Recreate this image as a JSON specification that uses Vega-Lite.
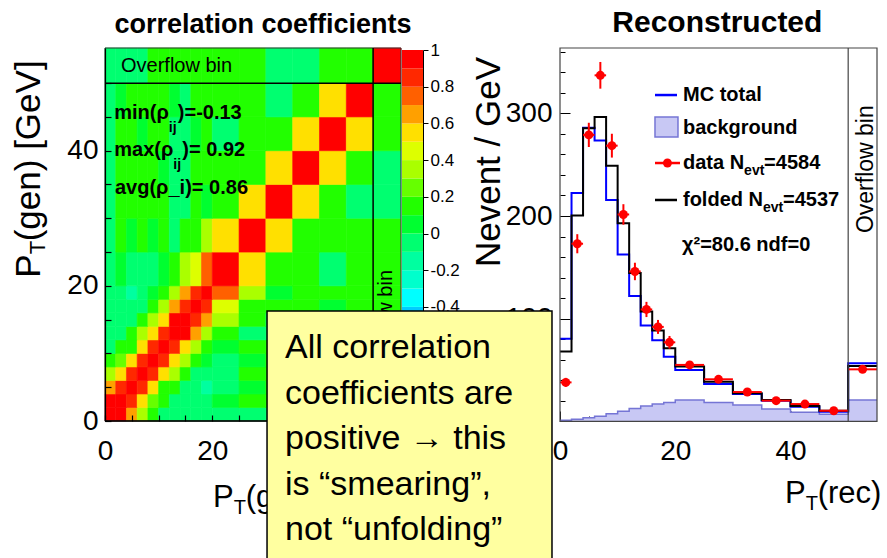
{
"$schema":"https://vega.github.io/schema/vega-lite/v6.json",
"width":887,"height":558,"autosize":{"type":"none"},"padding":0,"background":"white",
"config":{"view":{"stroke":null},"font":"Liberation Sans","text":{"font":"Liberation Sans","color":"black"},
 "axis":{"grid":false,"labelFont":"Liberation Sans","labelColor":"black","domainColor":"black","tickColor":"black","labelFlush":false,"labelOverlap":false,"title":null}},
"datasets":{
 "one":[{}],
 "edges":[{"k":0,"lo":0,"hi":2},{"k":1,"lo":2,"hi":4},{"k":2,"lo":4,"hi":6},{"k":3,"lo":6,"hi":8},{"k":4,"lo":8,"hi":10},{"k":5,"lo":10,"hi":12},{"k":6,"lo":12,"hi":14},{"k":7,"lo":14,"hi":16},{"k":8,"lo":16,"hi":18},{"k":9,"lo":18,"hi":20},{"k":10,"lo":20,"hi":25},{"k":11,"lo":25,"hi":30},{"k":12,"lo":30,"hi":35},{"k":13,"lo":35,"hi":40},{"k":14,"lo":40,"hi":45},{"k":15,"lo":45,"hi":50},{"k":16,"lo":50,"hi":55.2}],
 "corr":[
  {"j":0,"i":[0,1,2,3,4,5,6,7,8,9,10,11,12,13,14,15,16],"r":[1,0.92,0.68,0.38,0.15,-0.05,-0.05,-0.05,-0.05,-0.05,-0.05,-0.05,-0.05,-0.05,-0.05,-0.05,-0.05]},
  {"j":1,"i":[0,1,2,3,4,5,6,7,8,9,10,11,12,13,14,15,16],"r":[0.92,1,0.86,0.55,0.2,0.12,-0.05,-0.05,-0.05,-0.05,0.05,0.12,0.12,0.12,0.12,0.05,-0.05]},
  {"j":2,"i":[0,1,2,3,4,5,6,7,8,9,10,11,12,13,14,15,16],"r":[0.68,0.86,1,0.8,0.55,0.15,0.12,-0.05,-0.05,-0.13,-0.05,0.05,0.12,0.12,0.12,0.12,-0.05]},
  {"j":3,"i":[0,1,2,3,4,5,6,7,8,9,10,11,12,13,14,15,16],"r":[0.38,0.55,0.8,1,0.86,0.55,0.3,0.12,-0.05,-0.05,-0.05,0.12,0.12,0.12,0.05,0.12,-0.05]},
  {"j":4,"i":[0,1,2,3,4,5,6,7,8,9,10,11,12,13,14,15,16],"r":[0.15,0.2,0.55,0.86,1,0.85,0.58,0.35,0.15,0.05,-0.05,0.05,0.12,0.12,0.12,0.12,0.12]},
  {"j":5,"i":[0,1,2,3,4,5,6,7,8,9,10,11,12,13,14,15,16],"r":[-0.05,0.12,0.15,0.55,0.85,1,0.86,0.55,0.32,0.15,0.05,0.12,0.12,0.05,0.12,0.12,0.12]},
  {"j":6,"i":[0,1,2,3,4,5,6,7,8,9,10,11,12,13,14,15,16],"r":[-0.05,-0.05,0.12,0.3,0.58,0.86,1,0.9,0.62,0.35,0.15,-0.05,-0.05,-0.05,-0.05,0.05,0.12]},
  {"j":7,"i":[0,1,2,3,4,5,6,7,8,9,10,11,12,13,14,15,16],"r":[-0.05,-0.05,-0.05,0.12,0.35,0.55,0.9,1,0.88,0.6,0.32,0.12,-0.05,-0.05,-0.05,-0.05,0.12]},
  {"j":8,"i":[0,1,2,3,4,5,6,7,8,9,10,11,12,13,14,15,16],"r":[-0.05,-0.05,-0.05,-0.05,0.15,0.32,0.62,0.88,1,0.85,0.45,0.12,0.12,0.12,0.05,0.12,0.12]},
  {"j":9,"i":[0,1,2,3,4,5,6,7,8,9,10,11,12,13,14,15,16],"r":[-0.05,-0.05,-0.13,-0.05,0.05,0.15,0.35,0.6,0.85,1,0.74,0.3,0.05,0.12,0.12,0.12,0.12]},
  {"j":10,"i":[0,1,2,3,4,5,6,7,8,9,10,11,12,13,14,15,16],"r":[-0.05,0.05,-0.05,-0.05,-0.05,0.05,0.15,0.32,0.45,0.74,1,0.55,0.12,0.12,-0.05,0.12,0.12]},
  {"j":11,"i":[0,1,2,3,4,5,6,7,8,9,10,11,12,13,14,15,16],"r":[-0.05,0.12,0.05,0.12,0.05,0.12,-0.05,0.12,0.12,0.3,0.55,1,0.55,0.15,0.12,0.12,0.12]},
  {"j":12,"i":[0,1,2,3,4,5,6,7,8,9,10,11,12,13,14,15,16],"r":[-0.05,0.12,0.12,0.12,0.12,0.12,-0.05,-0.05,0.12,0.05,0.12,0.55,1,0.55,0.12,-0.05,-0.05]},
  {"j":13,"i":[0,1,2,3,4,5,6,7,8,9,10,11,12,13,14,15,16],"r":[-0.05,0.12,0.12,0.12,0.12,0.05,-0.05,-0.05,0.12,0.12,0.12,0.15,0.55,1,0.55,0.12,-0.05]},
  {"j":14,"i":[0,1,2,3,4,5,6,7,8,9,10,11,12,13,14,15,16],"r":[-0.05,0.12,0.12,0.05,0.12,0.12,-0.05,-0.05,0.05,0.12,-0.05,0.12,0.12,0.55,1,0.55,0.12]},
  {"j":15,"i":[0,1,2,3,4,5,6,7,8,9,10,11,12,13,14,15,16],"r":[-0.05,0.05,0.12,0.12,0.12,0.12,0.05,-0.05,0.12,0.12,0.12,0.12,-0.05,0.12,0.55,1,0.12]},
  {"j":16,"i":[0,1,2,3,4,5,6,7,8,9,10,11,12,13,14,15,16],"r":[-0.05,-0.05,-0.05,-0.05,0.12,0.12,0.12,0.12,0.12,0.12,0.12,0.12,-0.05,-0.05,0.12,0.12,1]}
 ],
 "cbar":[{"lo":-1,"hi":-0.9,"c":-0.95},{"lo":-0.9,"hi":-0.8,"c":-0.85},{"lo":-0.8,"hi":-0.7,"c":-0.75},{"lo":-0.7,"hi":-0.6,"c":-0.65},{"lo":-0.6,"hi":-0.5,"c":-0.55},{"lo":-0.5,"hi":-0.4,"c":-0.45},{"lo":-0.4,"hi":-0.3,"c":-0.35},{"lo":-0.3,"hi":-0.2,"c":-0.25},{"lo":-0.2,"hi":-0.1,"c":-0.15},{"lo":-0.1,"hi":0,"c":-0.05},{"lo":0,"hi":0.1,"c":0.05},{"lo":0.1,"hi":0.2,"c":0.15},{"lo":0.2,"hi":0.3,"c":0.25},{"lo":0.3,"hi":0.4,"c":0.35},{"lo":0.4,"hi":0.5,"c":0.45},{"lo":0.5,"hi":0.6,"c":0.55},{"lo":0.6,"hi":0.7,"c":0.65},{"lo":0.7,"hi":0.8,"c":0.75},{"lo":0.8,"hi":0.9,"c":0.85},{"lo":0.9,"hi":1,"c":0.95}],
 "steps":[{"e":0,"mc":80.5,"fold":68,"bg":1.2},{"e":2,"mc":222.5,"fold":200.5,"bg":2},{"e":4,"mc":286,"fold":285.5,"bg":3.5},{"e":6,"mc":273.5,"fold":296.5,"bg":5},{"e":8,"mc":215.5,"fold":249,"bg":7.5},{"e":10,"mc":162.5,"fold":193,"bg":10},{"e":12,"mc":122,"fold":144.5,"bg":12.5},{"e":14,"mc":93.5,"fold":107,"bg":15},{"e":16,"mc":79,"fold":88.5,"bg":17},{"e":18,"mc":63,"fold":71.2,"bg":18.5},{"e":20,"mc":50,"fold":53.5,"bg":20.8},{"e":25,"mc":36.4,"fold":38.7,"bg":18.5},{"e":30,"mc":26.7,"fold":27.3,"bg":16},{"e":35,"mc":20.2,"fold":20.8,"bg":12},{"e":40,"mc":14.3,"fold":15,"bg":8.8},{"e":45,"mc":9.5,"fold":10.4,"bg":7},{"e":50,"mc":56.6,"fold":54,"bg":20.8},{"e":55,"mc":56.6,"fold":54,"bg":20.8}],
 "hist":[{"lo":0,"hi":2,"mid":1,"data":38,"dlo":33.6,"dhi":42.4},{"lo":2,"hi":4,"mid":3,"data":173,"dlo":163.7,"dhi":182.3},{"lo":4,"hi":6,"mid":5,"data":279,"dlo":267.2,"dhi":290.8},{"lo":6,"hi":8,"mid":7,"data":337,"dlo":324,"dhi":350},{"lo":8,"hi":10,"mid":9,"data":268.5,"dlo":256.9,"dhi":280.1},{"lo":10,"hi":12,"mid":11,"data":201.5,"dlo":191.5,"dhi":211.5},{"lo":12,"hi":14,"mid":13,"data":146,"dlo":137.5,"dhi":154.5},{"lo":14,"hi":16,"mid":15,"data":109,"dlo":101.6,"dhi":116.4},{"lo":16,"hi":18,"mid":17,"data":92,"dlo":85.2,"dhi":98.8},{"lo":18,"hi":20,"mid":19,"data":77,"dlo":70.8,"dhi":83.2},{"lo":20,"hi":25,"mid":22.5,"data":55,"dlo":51.7,"dhi":58.3},{"lo":25,"hi":30,"mid":27.5,"data":41,"dlo":38.1,"dhi":43.9},{"lo":30,"hi":35,"mid":32.5,"data":28.6,"dlo":26.2,"dhi":31},{"lo":35,"hi":40,"mid":37.5,"data":20.2,"dlo":18.2,"dhi":22.2},{"lo":40,"hi":45,"mid":42.5,"data":16.9,"dlo":15.1,"dhi":18.7},{"lo":45,"hi":50,"mid":47.5,"data":10.4,"dlo":9,"dhi":11.8},{"lo":50,"hi":55,"mid":52.5,"data":50.7,"dlo":47.5,"dhi":53.9}],
 "stats":[{"pre":"min(ρ","sub":"ij","post":")=-0.13","x":11.9,"y":45.58},{"pre":"max(ρ","sub":"ij","post":")= 0.92","x":12.74,"y":40.1}],
 "legsub":[{"pre":"data N","sub":"evt","post":"=4584","x":31.94,"y":251.6},{"pre":"folded N","sub":"evt","post":"=4537","x":35.22,"y":215.6}]
},
"resolve":{"scale":{"x":"independent","y":"independent"},"axis":{"x":"independent","y":"independent"}},
"layer":[
 {"layer":[
  {"data":{"name":"corr"},
   "transform":[{"flatten":["i","r"]},
     {"lookup":"i","from":{"data":{"name":"edges"},"key":"k","fields":["lo","hi"]},"as":["x","x2"]},
     {"lookup":"j","from":{"data":{"name":"edges"},"key":"k","fields":["lo","hi"]},"as":["y","y2"]}],
   "mark":{"type":"rect","strokeWidth":0.6},
   "encoding":{
    "x":{"field":"x","type":"quantitative","scale":{"domain":[0,55.2],"range":[105,401],"nice":false,"zero":false},"axis":null},
    "x2":{"field":"x2"},
    "y":{"field":"y","type":"quantitative","scale":{"domain":[0,55.2],"range":[421,48],"nice":false,"zero":false},"axis":null},
    "y2":{"field":"y2"},
    "color":{"field":"r","type":"quantitative","scale":{"type":"threshold","domain":[-0.9,-0.8,-0.7,-0.6,-0.5,-0.4,-0.3,-0.2,-0.1,0,0.1,0.2,0.3,0.4,0.5,0.6,0.7,0.8,0.9],"range":["#6600ff","#3300ff","#0033ff","#0066ff","#0099ff","#00ccff","#00ffff","#00ffcc","#00ffa0","#00ff70","#00ff30","#22ff00","#66ff00","#aaff00","#ddff00","#ffe000","#ffa000","#ff6000","#ff2800","#ff0000"]},"legend":null},
    "stroke":{"field":"r","type":"quantitative","scale":{"type":"threshold","domain":[-0.9,-0.8,-0.7,-0.6,-0.5,-0.4,-0.3,-0.2,-0.1,0,0.1,0.2,0.3,0.4,0.5,0.6,0.7,0.8,0.9],"range":["#6600ff","#3300ff","#0033ff","#0066ff","#0099ff","#00ccff","#00ffff","#00ffcc","#00ffa0","#00ff70","#00ff30","#22ff00","#66ff00","#aaff00","#ddff00","#ffe000","#ffa000","#ff6000","#ff2800","#ff0000"]},"legend":null}
   }},
  {"data":{"name":"one"},"mark":{"type":"rect","filled":false,"color":"#333333","strokeWidth":1},
   "encoding":{"x":{"datum":0,"type":"quantitative","scale":{"domain":[0,55.2],"range":[105,401],"nice":false,"zero":false},"axis":null},"x2":{"datum":55.2},
    "y":{"datum":0,"type":"quantitative","scale":{"domain":[0,55.2],"range":[421,48],"nice":false,"zero":false},"axis":null},"y2":{"datum":55.2}}},
  {"data":{"name":"one"},"mark":{"type":"rule","color":"black","strokeWidth":1.5},
   "encoding":{"x":{"datum":50,"type":"quantitative","scale":{"domain":[0,55.2],"range":[105,401],"nice":false,"zero":false},"axis":null},
    "y":{"datum":0,"type":"quantitative","scale":{"domain":[0,55.2],"range":[421,48],"nice":false,"zero":false},"axis":null},"y2":{"datum":55.2}}},
  {"data":{"name":"one"},"mark":{"type":"rule","color":"black","strokeWidth":1.5},
   "encoding":{"x":{"datum":0,"type":"quantitative","scale":{"domain":[0,55.2],"range":[105,401],"nice":false,"zero":false},"axis":null},"x2":{"datum":55.2},
    "y":{"datum":50,"type":"quantitative","scale":{"domain":[0,55.2],"range":[421,48],"nice":false,"zero":false},"axis":null}}},
  {"data":{"name":"one"},"mark":{"type":"rule","color":"black","strokeWidth":1.5},
   "encoding":{"x":{"datum":0,"type":"quantitative","scale":{"domain":[0,55.2],"range":[105,401],"nice":false,"zero":false},"axis":null},"x2":{"datum":55.2},
    "y":{"datum":0,"type":"quantitative","scale":{"domain":[0,55.2],"range":[421,48],"nice":false,"zero":false},"axis":null}}},
  {"data":{"values":[{"t":"correlation coefficients","x":29.47,"y":58.6}]},
   "mark":{"type":"text","fontSize":27,"fontWeight":"bold","align":"center","baseline":"middle"},
   "encoding":{"x":{"field":"x","type":"quantitative","scale":{"domain":[0,55.2],"range":[105,401],"nice":false,"zero":false},"axis":null},
    "y":{"field":"y","type":"quantitative","scale":{"domain":[0,55.2],"range":[421,48],"nice":false,"zero":false},"axis":null},"text":{"field":"t"}}},
  {"data":{"values":[{"t":"Overflow bin","x":2.98,"y":51.65}]},
   "mark":{"type":"text","fontSize":20,"align":"left","baseline":"alphabetic"},
   "encoding":{"x":{"field":"x","type":"quantitative","scale":{"domain":[0,55.2],"range":[105,401],"nice":false,"zero":false},"axis":null},
    "y":{"field":"y","type":"quantitative","scale":{"domain":[0,55.2],"range":[421,48],"nice":false,"zero":false},"axis":null},"text":{"field":"t"}}},
  {"data":{"values":[{"t":"Overflow bin","x":52.4,"y":22.35}]},
   "mark":{"type":"text","fontSize":20,"align":"right","baseline":"middle","angle":270},
   "encoding":{"x":{"field":"x","type":"quantitative","scale":{"domain":[0,55.2],"range":[105,401],"nice":false,"zero":false},"axis":null},
    "y":{"field":"y","type":"quantitative","scale":{"domain":[0,55.2],"range":[421,48],"nice":false,"zero":false},"axis":null},"text":{"field":"t"}}},
  {"data":{"name":"stats"},
   "mark":{"type":"text","fontSize":20,"fontWeight":"bold","align":"right","baseline":"middle"},
   "encoding":{"x":{"field":"x","type":"quantitative","scale":{"domain":[0,55.2],"range":[105,401],"nice":false,"zero":false},"axis":null},
    "y":{"field":"y","type":"quantitative","scale":{"domain":[0,55.2],"range":[421,48],"nice":false,"zero":false},"axis":null},"text":{"field":"pre"}}},
  {"data":{"name":"stats"},
   "mark":{"type":"text","fontSize":14,"fontWeight":"bold","align":"left","baseline":"middle","dy":15},
   "encoding":{"x":{"field":"x","type":"quantitative","scale":{"domain":[0,55.2],"range":[105,401],"nice":false,"zero":false},"axis":null},
    "y":{"field":"y","type":"quantitative","scale":{"domain":[0,55.2],"range":[421,48],"nice":false,"zero":false},"axis":null},"text":{"field":"sub"}}},
  {"data":{"name":"stats"},
   "mark":{"type":"text","fontSize":20,"fontWeight":"bold","align":"left","baseline":"middle","dx":9},
   "encoding":{"x":{"field":"x","type":"quantitative","scale":{"domain":[0,55.2],"range":[105,401],"nice":false,"zero":false},"axis":null},
    "y":{"field":"y","type":"quantitative","scale":{"domain":[0,55.2],"range":[421,48],"nice":false,"zero":false},"axis":null},"text":{"field":"post"}}},
  {"data":{"values":[{"t":"avg(ρ_i)= 0.86","x":1.865,"y":34.5}]},
   "mark":{"type":"text","fontSize":20,"fontWeight":"bold","align":"left","baseline":"middle"},
   "encoding":{"x":{"field":"x","type":"quantitative","scale":{"domain":[0,55.2],"range":[105,401],"nice":false,"zero":false},"axis":null},
    "y":{"field":"y","type":"quantitative","scale":{"domain":[0,55.2],"range":[421,48],"nice":false,"zero":false},"axis":null},"text":{"field":"t"}}},
  {"data":{"values":[{"pre":"P","sub":"T","post":"(gen) [GeV]","x":-12.12,"y":24.67}]},
   "mark":{"type":"text","fontSize":35,"align":"right","baseline":"alphabetic","angle":270},
   "encoding":{"x":{"field":"x","type":"quantitative","scale":{"domain":[0,55.2],"range":[105,401],"nice":false,"zero":false},"axis":null},
    "y":{"field":"y","type":"quantitative","scale":{"domain":[0,55.2],"range":[421,48],"nice":false,"zero":false},"axis":null},"text":{"field":"pre"}}},
  {"data":{"values":[{"pre":"P","sub":"T","post":"(gen) [GeV]","x":-12.12,"y":24.67}]},
   "mark":{"type":"text","fontSize":22,"align":"left","baseline":"alphabetic","angle":270,"dy":5},
   "encoding":{"x":{"field":"x","type":"quantitative","scale":{"domain":[0,55.2],"range":[105,401],"nice":false,"zero":false},"axis":null},
    "y":{"field":"y","type":"quantitative","scale":{"domain":[0,55.2],"range":[421,48],"nice":false,"zero":false},"axis":null},"text":{"field":"sub"}}},
  {"data":{"values":[{"pre":"P","sub":"T","post":"(gen) [GeV]","x":-12.12,"y":24.67}]},
   "mark":{"type":"text","fontSize":35,"align":"left","baseline":"alphabetic","angle":270,"dx":13},
   "encoding":{"x":{"field":"x","type":"quantitative","scale":{"domain":[0,55.2],"range":[105,401],"nice":false,"zero":false},"axis":null},
    "y":{"field":"y","type":"quantitative","scale":{"domain":[0,55.2],"range":[421,48],"nice":false,"zero":false},"axis":null},"text":{"field":"post"}}},
  {"data":{"values":[{"pre":"P","sub":"T","post":"(gen) [GeV]","x":24.0,"y":-12.73}]},
   "mark":{"type":"text","fontSize":31,"align":"right","baseline":"alphabetic"},
   "encoding":{"x":{"field":"x","type":"quantitative","scale":{"domain":[0,55.2],"range":[105,401],"nice":false,"zero":false},"axis":null},
    "y":{"field":"y","type":"quantitative","scale":{"domain":[0,55.2],"range":[421,48],"nice":false,"zero":false},"axis":null},"text":{"field":"pre"}}},
  {"data":{"values":[{"pre":"P","sub":"T","post":"(gen) [GeV]","x":24.0,"y":-12.73}]},
   "mark":{"type":"text","fontSize":20,"align":"left","baseline":"alphabetic","dy":7},
   "encoding":{"x":{"field":"x","type":"quantitative","scale":{"domain":[0,55.2],"range":[105,401],"nice":false,"zero":false},"axis":null},
    "y":{"field":"y","type":"quantitative","scale":{"domain":[0,55.2],"range":[421,48],"nice":false,"zero":false},"axis":null},"text":{"field":"sub"}}},
  {"data":{"values":[{"pre":"P","sub":"T","post":"(gen) [GeV]","x":24.0,"y":-12.73}]},
   "mark":{"type":"text","fontSize":31,"align":"left","baseline":"alphabetic","dx":12},
   "encoding":{"x":{"field":"x","type":"quantitative","scale":{"domain":[0,55.2],"range":[105,401],"nice":false,"zero":false},"axis":null},
    "y":{"field":"y","type":"quantitative","scale":{"domain":[0,55.2],"range":[421,48],"nice":false,"zero":false},"axis":null},"text":{"field":"post"}}}
 ]},
 {"data":{"name":"cbar"},
  "mark":{"type":"rect","strokeWidth":0.5},
  "encoding":{
   "x":{"datum":0,"type":"quantitative","scale":{"domain":[0,1],"range":[402,423],"nice":false,"zero":false},"axis":null},
   "x2":{"datum":1},
   "y":{"field":"lo","type":"quantitative","scale":{"domain":[-1,1],"range":[417,50],"nice":false,"zero":false},
     "axis":{"orient":"right","offset":-464,"title":null,"values":[-1,-0.8,-0.6,-0.4,-0.2,0,0.2,0.4,0.6,0.8,1],"format":"~g","labelExpr":"replace(datum.label,'\u2212','-')","labelFontSize":17,"tickSize":5,"labelPadding":2,"domain":true}},
   "y2":{"field":"hi"},
   "color":{"field":"c","type":"quantitative","scale":{"type":"threshold","domain":[-0.9,-0.8,-0.7,-0.6,-0.5,-0.4,-0.3,-0.2,-0.1,0,0.1,0.2,0.3,0.4,0.5,0.6,0.7,0.8,0.9],"range":["#6600ff","#3300ff","#0033ff","#0066ff","#0099ff","#00ccff","#00ffff","#00ffcc","#00ffa0","#00ff70","#00ff30","#22ff00","#66ff00","#aaff00","#ddff00","#ffe000","#ffa000","#ff6000","#ff2800","#ff0000"]},"legend":null}
  }},
 {"data":{"name":"one"},"mark":{"type":"point","opacity":0},
  "encoding":{"y":{"datum":0,"type":"quantitative","scale":{"domain":[0,55.2],"range":[421,48],"nice":false,"zero":false},
    "axis":{"orient":"left","offset":-105,"title":null,"values":[0,20,40],"ticks":false,"domain":true,"domainWidth":1.2,"labelPadding":7,"labelFontSize":28,"zindex":1}}}},
 {"data":{"name":"one"},"mark":{"type":"point","opacity":0},
  "encoding":{"y":{"datum":0,"type":"quantitative","scale":{"domain":[0,55.2],"range":[421,48],"nice":false,"zero":false},
    "axis":{"orient":"right","offset":-782,"title":null,"values":[0,5,10,15,20,25,30,35,40,45,50],"labels":false,"domain":false,"tickSize":6,"tickWidth":1.2,"zindex":1}}}},
 {"data":{"name":"one"},"mark":{"type":"point","opacity":0},
  "encoding":{"x":{"datum":0,"type":"quantitative","scale":{"domain":[0,55.2],"range":[105,401],"nice":false,"zero":false},
    "axis":{"orient":"bottom","offset":-137,"title":null,"values":[0,20],"ticks":false,"domain":false,"labelPadding":16,"labelFontSize":28,"zindex":1}}}},
 {"data":{"name":"one"},"mark":{"type":"point","opacity":0},
  "encoding":{"x":{"datum":0,"type":"quantitative","scale":{"domain":[0,55.2],"range":[105,401],"nice":false,"zero":false},
    "axis":{"orient":"top","offset":-421,"title":null,"values":[0,5,10,15,20,25],"labels":false,"domain":false,"tickSize":6,"tickWidth":1.2,"zindex":1}}}},
 {"data":{"name":"one"},"mark":{"type":"point","opacity":0},
  "encoding":{"y":{"datum":0,"type":"quantitative","scale":{"domain":[0,363.6],"range":[421.4,48],"nice":false,"zero":false},
    "axis":{"orient":"left","offset":-560,"title":null,"values":[0,100,200,300],"ticks":false,"domain":false,"labelPadding":8,"labelFontSize":28}}}},
 {"data":{"name":"one"},"mark":{"type":"point","opacity":0},
  "encoding":{"y":{"datum":0,"type":"quantitative","scale":{"domain":[0,363.6],"range":[421.4,48],"nice":false,"zero":false},
    "axis":{"orient":"right","offset":-327,"title":null,"values":[0,20,40,60,80,100,120,140,160,180,200,220,240,260,280,300,320,340,360],"labels":false,"domain":false,"tickSize":5}}}},
 {"data":{"name":"one"},"mark":{"type":"point","opacity":0},
  "encoding":{"y":{"datum":0,"type":"quantitative","scale":{"domain":[0,363.6],"range":[421.4,48],"nice":false,"zero":false},
    "axis":{"orient":"right","offset":-327,"title":null,"values":[0,100,200,300],"labels":false,"domain":false,"tickSize":10}}}},
 {"data":{"name":"one"},"mark":{"type":"point","opacity":0},
  "encoding":{"x":{"datum":0,"type":"quantitative","scale":{"domain":[0,55],"range":[560,877],"nice":false,"zero":false},
    "axis":{"orient":"bottom","offset":-137,"title":null,"values":[0,20,40],"ticks":false,"domain":false,"labelPadding":16,"labelFontSize":28}}}},
 {"data":{"name":"one"},"mark":{"type":"point","opacity":0},
  "encoding":{"x":{"datum":0,"type":"quantitative","scale":{"domain":[0,55],"range":[560,877],"nice":false,"zero":false},
    "axis":{"orient":"top","offset":-421,"title":null,"values":[0,5,10,15,20,25,30,35,40,45,50],"labels":false,"domain":false,"tickSize":5}}}},
 {"data":{"name":"one"},"mark":{"type":"point","opacity":0},
  "encoding":{"x":{"datum":0,"type":"quantitative","scale":{"domain":[0,55],"range":[560,877],"nice":false,"zero":false},
    "axis":{"orient":"top","offset":-421,"title":null,"values":[0,20,40],"labels":false,"domain":false,"tickSize":10}}}},
 {"layer":[
  {"data":{"name":"steps"},
   "mark":{"type":"area","interpolate":"step-after","color":"#c8c8f4","opacity":1},
   "encoding":{
    "x":{"field":"e","type":"quantitative","scale":{"domain":[0,55],"range":[560,877],"nice":false,"zero":false},"axis":null},
    "y":{"field":"bg","type":"quantitative","scale":{"domain":[0,363.6],"range":[421.4,48],"nice":false,"zero":false},"axis":null},
    "y2":{"datum":0}}},
  {"data":{"name":"steps"},
   "mark":{"type":"line","interpolate":"step-after","color":"#7575d5","strokeWidth":1.5},
   "encoding":{"x":{"field":"e","type":"quantitative","scale":{"domain":[0,55],"range":[560,877],"nice":false,"zero":false},"axis":null},
    "y":{"field":"bg","type":"quantitative","scale":{"domain":[0,363.6],"range":[421.4,48],"nice":false,"zero":false},"axis":null}}},
  {"data":{"name":"steps"},
   "mark":{"type":"line","interpolate":"step-after","color":"#0000ff","strokeWidth":2},
   "encoding":{"x":{"field":"e","type":"quantitative","scale":{"domain":[0,55],"range":[560,877],"nice":false,"zero":false},"axis":null},
    "y":{"field":"mc","type":"quantitative","scale":{"domain":[0,363.6],"range":[421.4,48],"nice":false,"zero":false},"axis":null}}},
  {"data":{"name":"steps"},
   "mark":{"type":"line","interpolate":"step-after","color":"#000000","strokeWidth":2},
   "encoding":{"x":{"field":"e","type":"quantitative","scale":{"domain":[0,55],"range":[560,877],"nice":false,"zero":false},"axis":null},
    "y":{"field":"fold","type":"quantitative","scale":{"domain":[0,363.6],"range":[421.4,48],"nice":false,"zero":false},"axis":null}}},
  {"data":{"name":"hist"},
   "mark":{"type":"rule","color":"#ff0000","strokeWidth":2},
   "encoding":{"x":{"field":"lo","type":"quantitative","scale":{"domain":[0,55],"range":[560,877],"nice":false,"zero":false},"axis":null},"x2":{"field":"hi"},
    "y":{"field":"data","type":"quantitative","scale":{"domain":[0,363.6],"range":[421.4,48],"nice":false,"zero":false},"axis":null}}},
  {"data":{"name":"hist"},
   "mark":{"type":"rule","color":"#ff0000","strokeWidth":2},
   "encoding":{"x":{"field":"mid","type":"quantitative","scale":{"domain":[0,55],"range":[560,877],"nice":false,"zero":false},"axis":null},
    "y":{"field":"dlo","type":"quantitative","scale":{"domain":[0,363.6],"range":[421.4,48],"nice":false,"zero":false},"axis":null},"y2":{"field":"dhi"}}},
  {"data":{"name":"hist"},
   "mark":{"type":"circle","color":"#ff0000","size":80,"opacity":1},
   "encoding":{"x":{"field":"mid","type":"quantitative","scale":{"domain":[0,55],"range":[560,877],"nice":false,"zero":false},"axis":null},
    "y":{"field":"data","type":"quantitative","scale":{"domain":[0,363.6],"range":[421.4,48],"nice":false,"zero":false},"axis":null}}},
  {"data":{"name":"one"},"mark":{"type":"rect","filled":false,"color":"#444444","strokeWidth":1.2},
   "encoding":{"x":{"datum":0,"type":"quantitative","scale":{"domain":[0,55],"range":[560,877],"nice":false,"zero":false},"axis":null},"x2":{"datum":55},
    "y":{"datum":0,"type":"quantitative","scale":{"domain":[0,363.6],"range":[421.4,48],"nice":false,"zero":false},"axis":null},"y2":{"datum":363.6}}},
  {"data":{"name":"one"},"mark":{"type":"rule","color":"#444444","strokeWidth":1.2},
   "encoding":{"x":{"datum":50,"type":"quantitative","scale":{"domain":[0,55],"range":[560,877],"nice":false,"zero":false},"axis":null},
    "y":{"datum":0,"type":"quantitative","scale":{"domain":[0,363.6],"range":[421.4,48],"nice":false,"zero":false},"axis":null},"y2":{"datum":363.6}}},
  {"data":{"name":"one"},"mark":{"type":"rule","color":"#0000ff","strokeWidth":2.5},
   "encoding":{"x":{"datum":16.48,"type":"quantitative","scale":{"domain":[0,55],"range":[560,877],"nice":false,"zero":false},"axis":null},"x2":{"datum":20.3},
    "y":{"datum":317.8,"type":"quantitative","scale":{"domain":[0,363.6],"range":[421.4,48],"nice":false,"zero":false},"axis":null}}},
  {"data":{"name":"one"},"mark":{"type":"rect","fill":"#c8c8f4","stroke":"#7575d5","strokeWidth":1.5},
   "encoding":{"x":{"datum":16.48,"type":"quantitative","scale":{"domain":[0,55],"range":[560,877],"nice":false,"zero":false},"axis":null},"x2":{"datum":20.47},
    "y":{"datum":276.9,"type":"quantitative","scale":{"domain":[0,363.6],"range":[421.4,48],"nice":false,"zero":false},"axis":null},"y2":{"datum":296.4}}},
  {"data":{"name":"one"},"mark":{"type":"rule","color":"#ff0000","strokeWidth":2.5},
   "encoding":{"x":{"datum":16.48,"type":"quantitative","scale":{"domain":[0,55],"range":[560,877],"nice":false,"zero":false},"axis":null},"x2":{"datum":20.82},
    "y":{"datum":251.6,"type":"quantitative","scale":{"domain":[0,363.6],"range":[421.4,48],"nice":false,"zero":false},"axis":null}}},
  {"data":{"name":"one"},"mark":{"type":"circle","color":"#ff0000","size":80,"opacity":1},
   "encoding":{"x":{"datum":18.64,"type":"quantitative","scale":{"domain":[0,55],"range":[560,877],"nice":false,"zero":false},"axis":null},
    "y":{"datum":251.6,"type":"quantitative","scale":{"domain":[0,363.6],"range":[421.4,48],"nice":false,"zero":false},"axis":null}}},
  {"data":{"name":"one"},"mark":{"type":"rule","color":"#000000","strokeWidth":2.5},
   "encoding":{"x":{"datum":16.48,"type":"quantitative","scale":{"domain":[0,55],"range":[560,877],"nice":false,"zero":false},"axis":null},"x2":{"datum":20.3},
    "y":{"datum":215.6,"type":"quantitative","scale":{"domain":[0,363.6],"range":[421.4,48],"nice":false,"zero":false},"axis":null}}},
  {"data":{"values":[{"t":"MC total","x":21.34,"y":317.8},{"t":"background","x":21.34,"y":285.6},{"t":"χ²=80.6 ndf=0","x":21.17,"y":171.8}]},
   "mark":{"type":"text","fontSize":20,"fontWeight":"bold","align":"left","baseline":"middle"},
   "encoding":{"x":{"field":"x","type":"quantitative","scale":{"domain":[0,55],"range":[560,877],"nice":false,"zero":false},"axis":null},
    "y":{"field":"y","type":"quantitative","scale":{"domain":[0,363.6],"range":[421.4,48],"nice":false,"zero":false},"axis":null},"text":{"field":"t"}}},
  {"data":{"name":"legsub"},
   "mark":{"type":"text","fontSize":20,"fontWeight":"bold","align":"right","baseline":"middle"},
   "encoding":{"x":{"field":"x","type":"quantitative","scale":{"domain":[0,55],"range":[560,877],"nice":false,"zero":false},"axis":null},
    "y":{"field":"y","type":"quantitative","scale":{"domain":[0,363.6],"range":[421.4,48],"nice":false,"zero":false},"axis":null},"text":{"field":"pre"}}},
  {"data":{"name":"legsub"},
   "mark":{"type":"text","fontSize":14,"fontWeight":"bold","align":"left","baseline":"middle","dy":8},
   "encoding":{"x":{"field":"x","type":"quantitative","scale":{"domain":[0,55],"range":[560,877],"nice":false,"zero":false},"axis":null},
    "y":{"field":"y","type":"quantitative","scale":{"domain":[0,363.6],"range":[421.4,48],"nice":false,"zero":false},"axis":null},"text":{"field":"sub"}}},
  {"data":{"name":"legsub"},
   "mark":{"type":"text","fontSize":20,"fontWeight":"bold","align":"left","baseline":"middle","dx":20},
   "encoding":{"x":{"field":"x","type":"quantitative","scale":{"domain":[0,55],"range":[560,877],"nice":false,"zero":false},"axis":null},
    "y":{"field":"y","type":"quantitative","scale":{"domain":[0,363.6],"range":[421.4,48],"nice":false,"zero":false},"axis":null},"text":{"field":"post"}}},
  {"data":{"values":[{"t":"Reconstructed","x":27.3,"y":387.9}]},
   "mark":{"type":"text","fontSize":30,"fontWeight":"bold","align":"center","baseline":"middle"},
   "encoding":{"x":{"field":"x","type":"quantitative","scale":{"domain":[0,55],"range":[560,877],"nice":false,"zero":false},"axis":null},
    "y":{"field":"y","type":"quantitative","scale":{"domain":[0,363.6],"range":[421.4,48],"nice":false,"zero":false},"axis":null},"text":{"field":"t"}}},
  {"data":{"values":[{"t":"Overflow bin","x":53.1,"y":183.4}]},
   "mark":{"type":"text","fontSize":23,"align":"left","baseline":"middle","angle":270},
   "encoding":{"x":{"field":"x","type":"quantitative","scale":{"domain":[0,55],"range":[560,877],"nice":false,"zero":false},"axis":null},
    "y":{"field":"y","type":"quantitative","scale":{"domain":[0,363.6],"range":[421.4,48],"nice":false,"zero":false},"axis":null},"text":{"field":"t"}}},
  {"data":{"values":[{"t":"Nevent / GeV","x":-10.41,"y":150.3}]},
   "mark":{"type":"text","fontSize":35,"align":"left","baseline":"alphabetic","angle":270},
   "encoding":{"x":{"field":"x","type":"quantitative","scale":{"domain":[0,55],"range":[560,877],"nice":false,"zero":false},"axis":null},
    "y":{"field":"y","type":"quantitative","scale":{"domain":[0,363.6],"range":[421.4,48],"nice":false,"zero":false},"axis":null},"text":{"field":"t"}}},
  {"data":{"values":[{"pre":"P","sub":"T","post":"(rec)","x":42.63,"y":-79.45}]},
   "mark":{"type":"text","fontSize":31,"align":"right","baseline":"alphabetic"},
   "encoding":{"x":{"field":"x","type":"quantitative","scale":{"domain":[0,55],"range":[560,877],"nice":false,"zero":false},"axis":null},
    "y":{"field":"y","type":"quantitative","scale":{"domain":[0,363.6],"range":[421.4,48],"nice":false,"zero":false},"axis":null},"text":{"field":"pre"}}},
  {"data":{"values":[{"pre":"P","sub":"T","post":"(rec)","x":42.63,"y":-79.45}]},
   "mark":{"type":"text","fontSize":20,"align":"left","baseline":"alphabetic","dy":7},
   "encoding":{"x":{"field":"x","type":"quantitative","scale":{"domain":[0,55],"range":[560,877],"nice":false,"zero":false},"axis":null},
    "y":{"field":"y","type":"quantitative","scale":{"domain":[0,363.6],"range":[421.4,48],"nice":false,"zero":false},"axis":null},"text":{"field":"sub"}}},
  {"data":{"values":[{"pre":"P","sub":"T","post":"(rec)","x":42.63,"y":-79.45}]},
   "mark":{"type":"text","fontSize":31,"align":"left","baseline":"alphabetic","dx":12},
   "encoding":{"x":{"field":"x","type":"quantitative","scale":{"domain":[0,55],"range":[560,877],"nice":false,"zero":false},"axis":null},
    "y":{"field":"y","type":"quantitative","scale":{"domain":[0,363.6],"range":[421.4,48],"nice":false,"zero":false},"axis":null},"text":{"field":"post"}}},
  {"data":{"name":"one"},"mark":{"type":"rect","fill":"#ffffa0","stroke":"#000000","strokeWidth":1.5},
   "encoding":{"x":{"datum":-50.83,"type":"quantitative","scale":{"domain":[0,55],"range":[560,877],"nice":false,"zero":false},"axis":null},"x2":{"datum":-1.39},
    "y":{"datum":107.5,"type":"quantitative","scale":{"domain":[0,363.6],"range":[421.4,48],"nice":false,"zero":false},"axis":null},"y2":{"datum":-140}}},
  {"data":{"values":[{"t":"All correlation\ncoefficients are\npositive → this\nis “smearing”,\nnot “unfolding”","x":-47.71,"y":61.73}]},
   "mark":{"type":"text","fontSize":34,"align":"left","baseline":"alphabetic","lineBreak":"\n","lineHeight":45.5},
   "encoding":{"x":{"field":"x","type":"quantitative","scale":{"domain":[0,55],"range":[560,877],"nice":false,"zero":false},"axis":null},
    "y":{"field":"y","type":"quantitative","scale":{"domain":[0,363.6],"range":[421.4,48],"nice":false,"zero":false},"axis":null},"text":{"field":"t"}}}
 ]}
]
}
